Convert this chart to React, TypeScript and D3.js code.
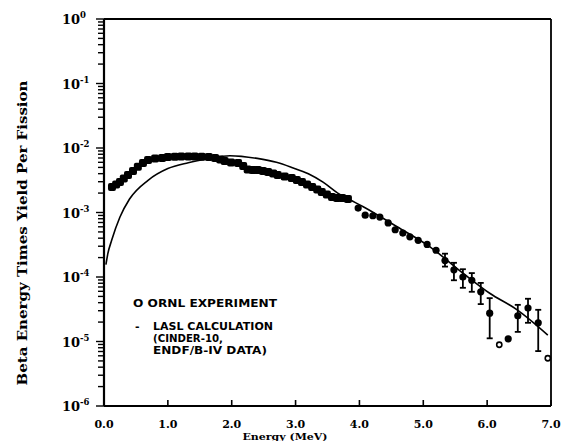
import React from "react";
import * as d3 from "d3";

// ORNL experiment, dense band (energy MeV, value)
const bandE = [0.125, 0.19, 0.25, 0.31, 0.376, 0.454, 0.53, 0.61, 0.69, 0.8, 0.91, 1.0, 1.11, 1.21, 1.32, 1.42, 1.53, 1.64, 1.74, 1.82, 1.89, 1.99, 2.1, 2.18, 2.25, 2.33, 2.41, 2.49, 2.57, 2.65, 2.72, 2.83, 2.94, 3.02, 3.1, 3.18, 3.26, 3.34, 3.41, 3.49, 3.57, 3.65, 3.73, 3.82];
const bandV = [2.48e-3, 2.72e-3, 2.97e-3, 3.37e-3, 3.81e-3, 4.4e-3, 5.13e-3, 5.85e-3, 6.52e-3, 6.87e-3, 7.0e-3, 7.24e-3, 7.33e-3, 7.38e-3, 7.38e-3, 7.38e-3, 7.33e-3, 7.24e-3, 7.0e-3, 6.64e-3, 6.31e-3, 5.96e-3, 5.85e-3, 5.25e-3, 4.65e-3, 4.56e-3, 4.56e-3, 4.4e-3, 4.25e-3, 4.03e-3, 3.81e-3, 3.61e-3, 3.43e-3, 3.19e-3, 2.97e-3, 2.72e-3, 2.48e-3, 2.28e-3, 2.08e-3, 1.9e-3, 1.74e-3, 1.68e-3, 1.68e-3, 1.62e-3];

// ORNL experiment, discrete points
const ptE = [3.98, 4.09, 4.21, 4.32, 4.45, 4.56, 4.68, 4.79, 4.92, 5.06, 5.2, 5.34, 5.48, 5.62, 5.76, 5.9, 6.04, 6.19, 6.33, 6.48, 6.64, 6.8, 6.95];
const ptV = [1.17e-3, 9.1e-4, 8.9e-4, 8.5e-4, 6.9e-4, 5.4e-4, 4.8e-4, 4.2e-4, 3.7e-4, 3.2e-4, 2.6e-4, 1.8e-4, 1.29e-4, 1.0e-4, 8.9e-5, 5.9e-5, 2.75e-5, 8.9e-6, 1.1e-5, 2.5e-5, 3.3e-5, 1.95e-5, 5.5e-6];
const ptLo = [0, 0, 0, 0, 0, 0, 0, 0, 0, 0, 0, 1.45e-4, 8.9e-5, 6.8e-5, 5.9e-5, 3.8e-5, 1.12e-5, 0, 0, 1.41e-5, 1.95e-5, 7.1e-6, 0];
const ptHi = [0, 0, 0, 0, 0, 0, 0, 0, 0, 0, 0, 2.3e-4, 1.66e-4, 1.32e-4, 1.15e-4, 8.1e-5, 4.7e-5, 0, 0, 3.7e-5, 4.6e-5, 3.1e-5, 0];
const ptOpen = [false, false, false, false, false, false, false, false, false, false, false, false, false, false, false, false, false, true, false, false, false, false, true];

// LASL calculation curve
const calcE = [0.03, 0.06, 0.12, 0.25, 0.4, 0.69, 1.0, 1.32, 1.63, 1.97, 2.4, 2.7, 2.94, 3.2, 3.43, 3.66, 3.85, 4.06, 4.59, 5.1, 5.62, 6.04, 6.47, 6.95];
const calcV = [1.55e-4, 2.3e-4, 3.7e-4, 8.5e-4, 1.62e-3, 3.16e-3, 4.8e-3, 5.9e-3, 6.8e-3, 7.6e-3, 6.9e-3, 6.0e-3, 5.0e-3, 3.98e-3, 2.95e-3, 2.0e-3, 1.58e-3, 1.23e-3, 6.0e-4, 2.95e-4, 1.15e-4, 5.6e-5, 3.1e-5, 1.26e-5];

const xTicks = [0, 1, 2, 3, 4, 5, 6, 7];
const xTickLabels = ["0.0", "1.0", "2.0", "3.0", "4.0", "5.0", "6.0", "7.0"];
const yExps = [0, -1, -2, -3, -4, -5, -6];

export default function App() {
  const x = d3.scaleLinear().domain([0, 7]).range([104, 551]);
  const y = d3.scaleLog().domain([1e-6, 1]).range([406, 19]);
  const line = d3
    .line<number>()
    .x((_, i) => x(calcE[i]))
    .y((_, i) => y(calcV[i]))
    .curve(d3.curveMonotoneX);

  const minor: number[] = [];
  for (let d = -6; d < 0; d++) for (let k = 2; k <= 9; k++) minor.push(k * Math.pow(10, d));

  const serif = "'DejaVu Serif', serif";
  const sans = "'DejaVu Sans', sans-serif";

  return (
    <svg width={566} height={441} style={{ position: "absolute", left: 0, top: 0, background: "#fff" }}>
      <rect width={566} height={441} fill="#fff" />
      {/* frame */}
      <g stroke="#000" strokeWidth={1.8} fill="none">
        <line x1={x(0)} x2={x(0)} y1={y(1)} y2={y(1e-6)} strokeWidth={2.2} />
        <line x1={x(0)} x2={x(7)} y1={y(1e-6)} y2={y(1e-6)} strokeWidth={2} />
        <line x1={x(0)} x2={x(7)} y1={y(1)} y2={y(1)} />
        <line x1={x(7)} x2={x(7)} y1={y(1)} y2={y(1e-6)} />
      </g>
      {/* y ticks */}
      <g stroke="#000" strokeWidth={1.4}>
        {yExps.map((e) => (
          <line key={"M" + e} x1={x(0) - 8} x2={x(0)} y1={y(Math.pow(10, e))} y2={y(Math.pow(10, e))} />
        ))}
        {minor.map((v, i) => (
          <line key={"m" + i} x1={x(0) - 6} x2={x(0)} y1={y(v)} y2={y(v)} />
        ))}
      </g>
      {yExps.map((e) => (
        <text key={"yl" + e} x={62} y={y(Math.pow(10, e)) + 5} fontFamily={serif} fontWeight="bold" fontSize={13} fill="#000">
          10
          <tspan dy={-6} fontSize={8.5}>{e === 0 ? "0" : String(e)}</tspan>
        </text>
      ))}
      {/* x ticks */}
      <g stroke="#000" strokeWidth={1.6}>
        {xTicks.map((t) => (
          <line key={"xt" + t} x1={x(t)} x2={x(t)} y1={y(1e-6)} y2={y(1e-6) - 6} />
        ))}
      </g>
      {xTicks.map((t, i) => (
        <text key={"xl" + t} x={x(t)} y={428} textAnchor="middle" fontFamily={serif} fontWeight="bold" fontSize={11} fill="#000">
          {xTickLabels[i]}
        </text>
      ))}
      <text x={285} y={440} textAnchor="middle" fontFamily={serif} fontWeight="bold" fontSize={10} textLength={85} lengthAdjust="spacingAndGlyphs" fill="#000">
        Energy (MeV)
      </text>
      <text transform="translate(27,233) rotate(-90)" textAnchor="middle" fontFamily={serif} fontWeight="bold" fontSize={13} textLength={305} lengthAdjust="spacingAndGlyphs" fill="#000">
        Beta Energy Times Yield Per Fission
      </text>
      {/* calculation curve */}
      <path d={line(calcE) || ""} fill="none" stroke="#000" strokeWidth={1.6} />
      {/* band */}
      <g fill="#000">
        {bandE.map((e, i) => (
          <rect key={"b" + i} x={x(e) - 4} y={y(bandV[i]) - 4} width={8} height={8} rx={2} />
        ))}
      </g>
      {/* error bars */}
      <g stroke="#000" strokeWidth={1.8}>
        {ptE.map((e, i) =>
          ptLo[i] > 0 ? (
            <g key={"eb" + i}>
              <line x1={x(e)} x2={x(e)} y1={y(ptLo[i])} y2={y(ptHi[i])} />
              <line x1={x(e) - 3} x2={x(e) + 3} y1={y(ptLo[i])} y2={y(ptLo[i])} />
              <line x1={x(e) - 3} x2={x(e) + 3} y1={y(ptHi[i])} y2={y(ptHi[i])} />
            </g>
          ) : null
        )}
      </g>
      {ptE.map((e, i) =>
        ptOpen[i] ? (
          <circle key={"p" + i} cx={x(e)} cy={y(ptV[i])} r={2.6} fill="#fff" stroke="#000" strokeWidth={1.6} />
        ) : (
          <circle key={"p" + i} cx={x(e)} cy={y(ptV[i])} r={3.6} fill="#000" />
        )
      )}
      {/* legend */}
      <g fontFamily={sans} fontWeight="bold" fontSize={11} fill="#000">
        <text x={133} y={307} textLength={144} lengthAdjust="spacingAndGlyphs">O ORNL EXPERIMENT</text>
        <text x={135} y={330}>-</text>
        <text x={153} y={330} textLength={120} lengthAdjust="spacingAndGlyphs">LASL CALCULATION</text>
        <text x={153} y={342} textLength={70} lengthAdjust="spacingAndGlyphs">(CINDER-10,</text>
        <text x={153} y={354} textLength={114} lengthAdjust="spacingAndGlyphs">ENDF/B-IV DATA)</text>
      </g>
    </svg>
  );
}
